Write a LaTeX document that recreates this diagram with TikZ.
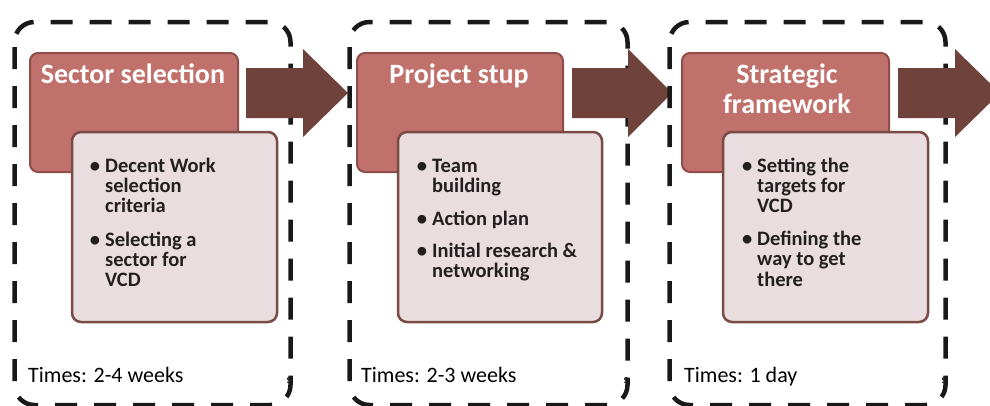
\documentclass[tikz,border=0pt]{standalone}
\usepackage{fontspec}
\setmainfont{Carlito}
\usetikzlibrary{calc}
\definecolor{redfill}{HTML}{C1716C}
\definecolor{redline}{HTML}{8E4D48}
\definecolor{pinkfill}{HTML}{E9DDDF}
\definecolor{pinkline}{HTML}{7A4A44}
\definecolor{arrowfill}{HTML}{6F433B}
\definecolor{txt}{HTML}{231F20}
\tikzset{
  stagebox/.style={draw=black!90, line width=4.5pt, dash pattern=on 22pt off 17pt, dash phase=34pt, rounded corners=20pt},
  redbox/.style={draw=redline, fill=redfill, line width=2pt, rounded corners=8pt, inner sep=0pt},
  pinkbox/.style={draw=pinkline, fill=pinkfill, line width=2.5pt, rounded corners=9pt, inner sep=0pt},
  title/.style={text=white, font=\fontsize{28}{30}\selectfont\bfseries, align=center, inner sep=0pt},
  bullets/.style={text=txt, font=\fontsize{20.5}{20}\selectfont\bfseries, inner sep=0pt, anchor=base west},
  times/.style={text=black, font=\fontsize{22}{26}\selectfont, inner sep=0pt, anchor=base west},
  stray/.style={text=txt, font=\fontsize{12}{12}\selectfont\bfseries, inner sep=0pt, anchor=base},
  blockarrow/.style={fill=arrowfill, draw=none},
}
\newcommand{\bul}{\llap{\textbullet\hspace{5pt}}}
\begin{document}
\begin{tikzpicture}[x=1pt,y=-1pt]
\useasboundingbox (0,0) rectangle (990,405);
% ---------- stage 1
\draw[stagebox] (14.5,22) rectangle (290.5,405);
\node[redbox, minimum width=208pt, minimum height=119pt] (r1) at (134,112.5) {};
\node[title, anchor=base] (t1) at (133,83) {Sector selection};
\node[pinkbox, minimum width=205pt, minimum height=190pt] (p1) at (174.5,227) {};
\node[bullets] (b1) at (105,172) {\begin{tabular}[t]{@{}l@{}}
\bul Decent Work\\ selection\\ criteria\\[13pt]
\bul Selecting a\\ sector for\\ VCD\end{tabular}};
\node[times] (m1) at (28,382) {Times: 2-4 weeks};
\node[stray] (s1) at (289,383) {s};
\coordinate (a1s) at (246,93);
\coordinate (a1t) at (348,93);
\fill[blockarrow] ($(a1s)+(0,-25)$) -- ++(57,0) -- ++(0,-19) -- (a1t) -- ($(a1s)+(57,44)$) -- ++(0,-19) -- ($(a1s)+(0,25)$) -- cycle;
% ---------- stage 2
\draw[stagebox] (349.5,22) rectangle (627.5,405);
\node[redbox, minimum width=206pt, minimum height=119pt] (r2) at (460,112.5) {};
\node[title, anchor=base] (t2) at (459,83) {Project stup};
\node[pinkbox, minimum width=204pt, minimum height=190pt] (p2) at (500,227) {};
\node[bullets] (b2) at (432,172) {\begin{tabular}[t]{@{}l@{}}
\bul Team\\ building\\[13pt]
\bul Action plan\\[11pt]
\bul Initial research \&\\ networking\end{tabular}};
\node[times] (m2) at (361,382) {Times: 2-3 weeks};
\node[stray] (s2) at (626,383) {s};
\coordinate (a2s) at (572,93);
\coordinate (a2t) at (672,93);
\fill[blockarrow] ($(a2s)+(0,-25)$) -- ++(56,0) -- ++(0,-19) -- (a2t) -- ($(a2s)+(56,44)$) -- ++(0,-19) -- ($(a2s)+(0,25)$) -- cycle;
% ---------- stage 3
\draw[stagebox] (669.5,22) rectangle (945.5,405);
\node[redbox, minimum width=207pt, minimum height=119pt] (r3) at (785.5,112.5) {};
\node[title, anchor=base] (t3) at (787,113) {Strategic\\framework};
\node[pinkbox, minimum width=205pt, minimum height=190pt] (p3) at (825.5,227) {};
\node[bullets] (b3) at (757,172) {\begin{tabular}[t]{@{}l@{}}
\bul Setting the\\ targets for\\ VCD\\[13pt]
\bul Defining the\\ way to get\\ there\end{tabular}};
\node[times] (m3) at (684,382) {Times: 1 day};
\node[stray] (s3) at (944,383) {s};
\coordinate (a3s) at (898,93);
\coordinate (a3t) at (1000,93);
\fill[blockarrow] ($(a3s)+(0,-25)$) -- ++(57,0) -- ++(0,-19) -- (a3t) -- ($(a3s)+(57,44)$) -- ++(0,-19) -- ($(a3s)+(0,25)$) -- cycle;
\end{tikzpicture}
\end{document}
